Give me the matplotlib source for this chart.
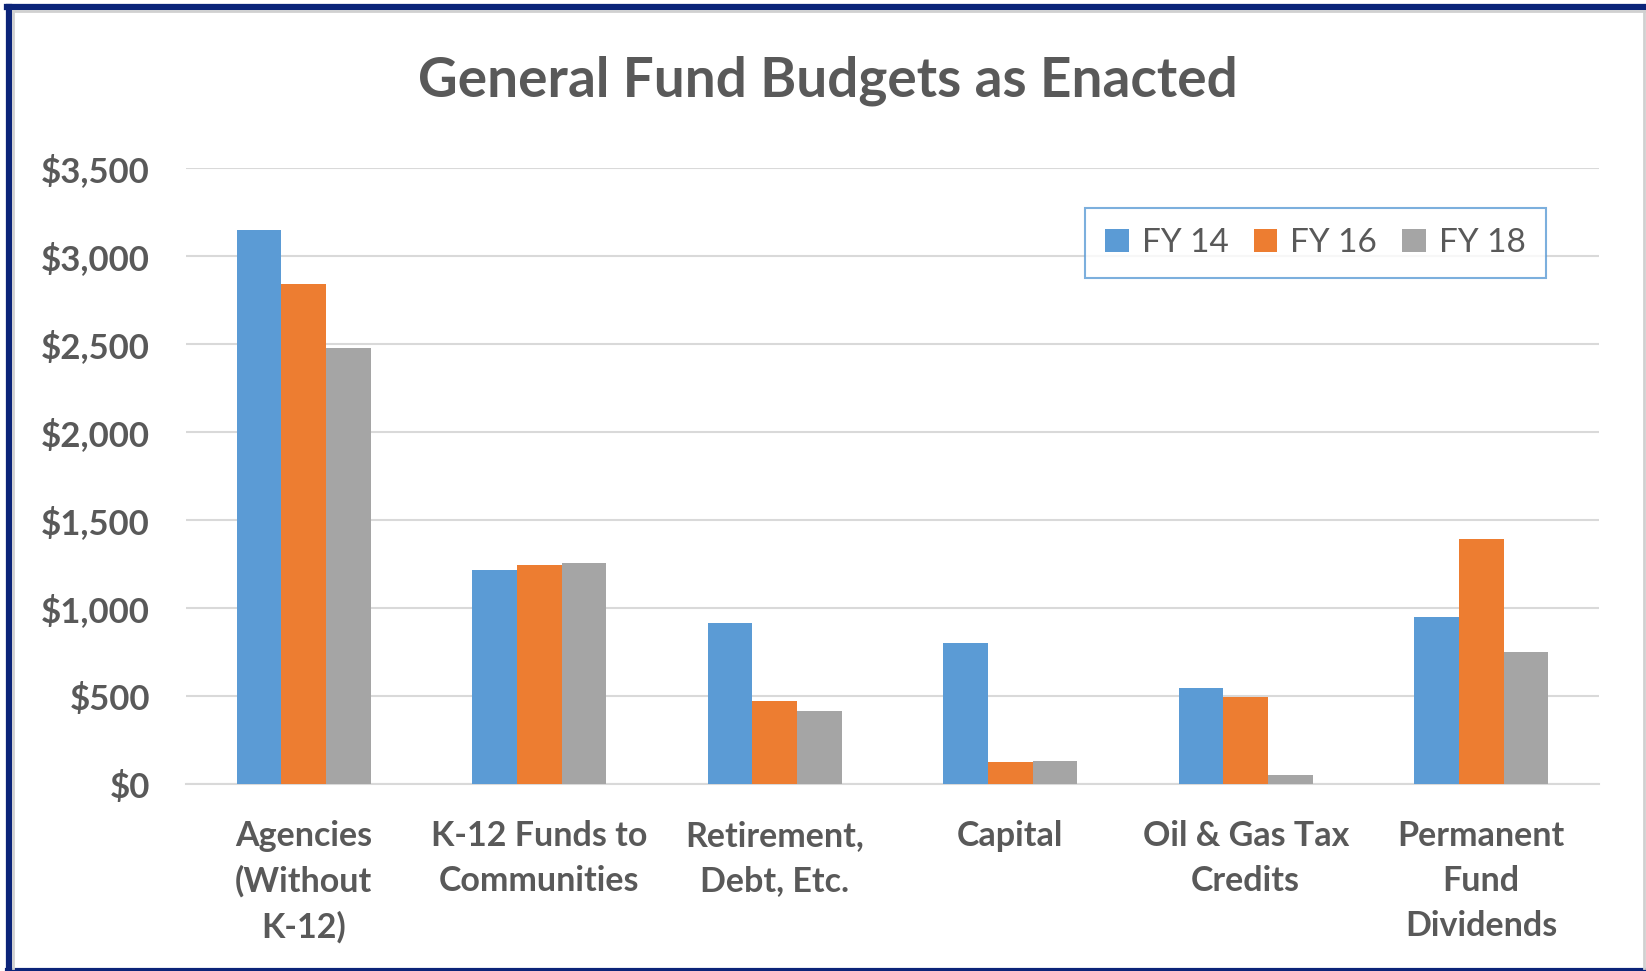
import numpy as np
import matplotlib
matplotlib.use('Agg')
import matplotlib.pyplot as plt
from matplotlib.lines import Line2D

# data ($ millions)
categories = ['Agencies\n(Without\nK-12)', 'K-12 Funds to\nCommunities', 'Retirement,\nDebt, Etc.',
              'Capital', 'Oil & Gas Tax\nCredits', 'Permanent\nFund\nDividends']
series_names = ['FY 14', 'FY 16', 'FY 18']
fy14 = [3145, 1218, 915, 799, 544, 950]
fy16 = [2840, 1242, 471, 123, 496, 1394]
fy18 = [2478, 1254, 415, 132, 53, 752]
y_ticks = [0, 500, 1000, 1500, 2000, 2500, 3000, 3500]

colors = ['#5B9BD5', '#ED7D31', '#A5A5A5']
txt = '#595959'
plt.rcParams['font.family'] = ['Lato', 'DejaVu Sans']

W, H = 1646, 971
fig = plt.figure(figsize=(W / 100, H / 100), dpi=100)
ax = fig.add_axes([186 / W, 1 - 784 / H, (1599 - 186) / W, (784 - 168) / H])

x = np.arange(len(categories))
bw = 0.19
for i, vals in enumerate([fy14, fy16, fy18]):
    ax.bar(x + (i - 1) * bw, vals, bw, color=colors[i], label=series_names[i], zorder=3)

ax.set_xlim(-0.5, len(categories) - 0.5)
ax.set_ylim(0, 3500)
ax.set_yticks(y_ticks)
ax.set_yticklabels(['${:,}'.format(v) for v in y_ticks], fontsize=25, fontweight='bold', color=txt)
ax.set_xticks(x)
ax.set_xticklabels(categories, fontsize=24.5, fontweight='bold', color=txt, linespacing=1.5)
ax.tick_params(axis='y', length=0, pad=26)
ax.tick_params(axis='x', length=0, pad=26)
ax.grid(axis='y', color='#D9D9D9', linewidth=1.5, zorder=0)
for s in ['top', 'right', 'left']:
    ax.spines[s].set_visible(False)
ax.spines['bottom'].set_color('#D9D9D9')
ax.spines['bottom'].set_linewidth(1.5)

fig.text(828 / W, 1 - 81 / H, 'General Fund Budgets as Enacted', ha='center', va='center',
         fontsize=39.5, fontweight='bold', color=txt)

leg = ax.legend(loc='center', bbox_to_anchor=(1315.5 / W, 1 - 243.5 / H), bbox_transform=fig.transFigure,
                ncol=3, fontsize=24, frameon=True, fancybox=False, handlelength=0.7, handleheight=0.7,
                handletextpad=0.4, columnspacing=0.75, borderpad=0.6)
leg.get_frame().set_edgecolor('#5B9BD5')
leg.get_frame().set_linewidth(1.5)
for t in leg.get_texts():
    t.set_color(txt)

# outer frame
navy = '#0B2479'
fig.add_artist(Line2D([9 / W, 9 / W], [0, 1 - 7 / H], color=navy, linewidth=4.5, transform=fig.transFigure))
fig.add_artist(Line2D([7 / W, 1], [1 - 7 / H, 1 - 7 / H], color=navy, linewidth=4.5, transform=fig.transFigure))
fig.add_artist(Line2D([7 / W, 1], [1.5 / H, 1.5 / H], color=navy, linewidth=3, transform=fig.transFigure))
fig.add_artist(Line2D([13 / W, 13 / W], [3 / H, 1 - 11 / H], color='#D0D0D0', linewidth=2, transform=fig.transFigure))
fig.add_artist(Line2D([13 / W, 1], [1 - 11 / H, 1 - 11 / H], color='#D0D0D0', linewidth=2, transform=fig.transFigure))
fig.add_artist(Line2D([1644 / W, 1644 / W], [3 / H, 1 - 11 / H], color='#D0D0D0', linewidth=2, transform=fig.transFigure))

fig.savefig('out.png', dpi=100)
